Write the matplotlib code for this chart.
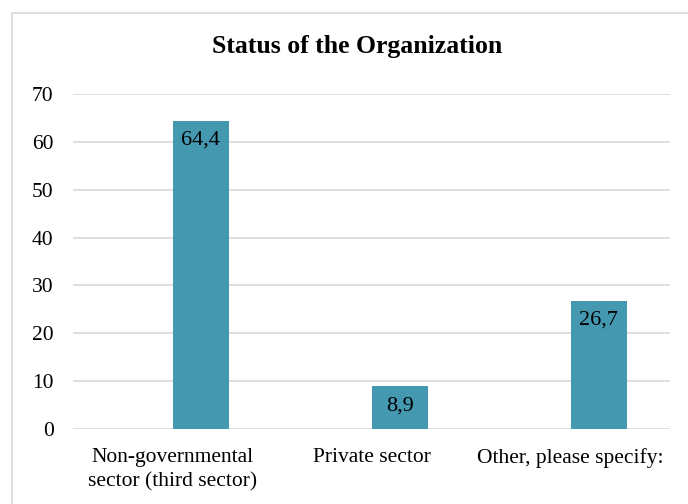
import numpy as np
import matplotlib.pyplot as plt
from matplotlib.patches import Rectangle

categories = ["Non-governmental\nsector (third sector)", "Private sector", "Other, please specify:"]
values = [64.4, 8.9, 26.7]
value_labels = ["64,4", "8,9", "26,7"]
yticks = [0, 10, 20, 30, 40, 50, 60, 70]

plt.rcParams['font.family'] = ['Liberation Serif', 'DejaVu Serif']

W, H = 688, 504
fig = plt.figure(figsize=(W/100, H/100), dpi=100)

# outer chart frame
fig.patches.append(Rectangle((12/W, -0.1), 1.1, 1 - 13/H + 0.1, transform=fig.transFigure,
                             fill=False, edgecolor='#d9d9d9', linewidth=1.2))

ax = fig.add_axes([73/W, 1 - 429/H, (670-73)/W, (429-94)/H])
x = np.arange(len(values))
bw = 0.285
bars = ax.bar(x, values, width=bw, align='edge', color='#4499B0', zorder=3)

for b, lab in zip(bars, value_labels):
    ax.annotate(lab, (b.get_x() + b.get_width()/2, b.get_height()),
                xytext=(0, -7), textcoords='offset points',
                ha='center', va='top', fontsize=16, color='black', zorder=4)

ax.set_xlim(-0.5, 2.5)
ax.set_ylim(0, 70)
ax.set_yticks(yticks)
ax.set_xticks(x)
ax.set_xticklabels(categories, fontsize=15.5, linespacing=1.35)
ax.tick_params(axis='y', labelsize=15.5, length=0, pad=14)
ax.tick_params(axis='x', length=0, pad=14)
ax.grid(axis='y', color='#d9d9d9', linewidth=1.2, zorder=0)
for s in ax.spines.values():
    s.set_visible(False)

fig.text(357/W, 1 - 47/H, "Status of the Organization", ha='center', va='center',
         fontsize=18.5, fontweight='bold')

fig.savefig("out.png", dpi=100)
